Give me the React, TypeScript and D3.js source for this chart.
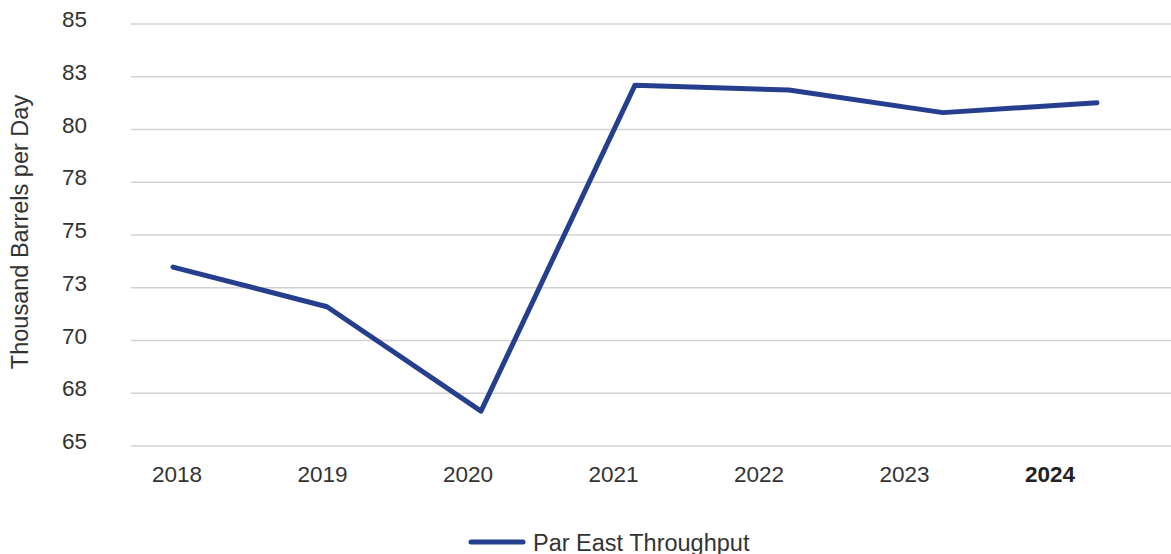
import React from "react";
import * as d3 from "d3";

const years = ["2018", "2019", "2020", "2021", "2022", "2023", "2024"];
const throughput = [73.48, 71.6, 66.65, 82.1, 81.87, 80.8, 81.27];
const yTicks = [65, 67.5, 70, 72.5, 75, 77.5, 80, 82.5, 85];
const seriesName = "Par East Throughput";
const yTitle = "Thousand Barrels per Day";

const W = 1171;
const H = 554;
const FONT = "'Liberation Sans', Arial, Helvetica, sans-serif";

export default function App() {
  const y = d3.scaleLinear().domain([65, 85]).range([446, 24]);
  // point positions
  const xPt = d3.scalePoint<string>().domain(years).range([173, 1097]);
  // label positions
  const xLab = d3.scalePoint<string>().domain(years).range([177, 1050]);
  const line = d3
    .line<number>()
    .x((_, i) => xPt(years[i]) as number)
    .y((d) => y(d));

  return (
    <svg
      width={W}
      height={H}
      style={{ position: "absolute", left: 0, top: 0, background: "#fff" }}
      fontFamily={FONT}
    >
      {yTicks.map((t) => (
        <g key={t}>
          <line x1={131} x2={W} y1={y(t)} y2={y(t)} stroke="#d2d2d2" strokeWidth={1.5} />
          <text x={87} y={y(t) + 3} textAnchor="end" fontSize={22.5} fill="#333">
            {Math.round(t)}
          </text>
        </g>
      ))}
      {years.map((yr, i) => (
        <text
          key={yr}
          x={xLab(yr)}
          y={482}
          textAnchor="middle"
          fontSize={22.5}
          fill={i === years.length - 1 ? "#222" : "#333"}
          fontWeight={i === years.length - 1 ? "bold" : "normal"}
        >
          {yr}
        </text>
      ))}
      <text
        transform={`translate(28,232) rotate(-90)`}
        textAnchor="middle"
        fontSize={23.5}
        fill="#333"
      >
        {yTitle}
      </text>
      <path
        d={line(throughput) || ""}
        fill="none"
        stroke="#253f8e"
        strokeWidth={5}
        strokeLinejoin="round"
        strokeLinecap="round"
      />
      <line x1={471} x2={523} y1={542} y2={542} stroke="#253f8e" strokeWidth={5} strokeLinecap="round" />
      <text x={533} y={551} fontSize={23.5} fill="#333">
        {seriesName}
      </text>
    </svg>
  );
}
